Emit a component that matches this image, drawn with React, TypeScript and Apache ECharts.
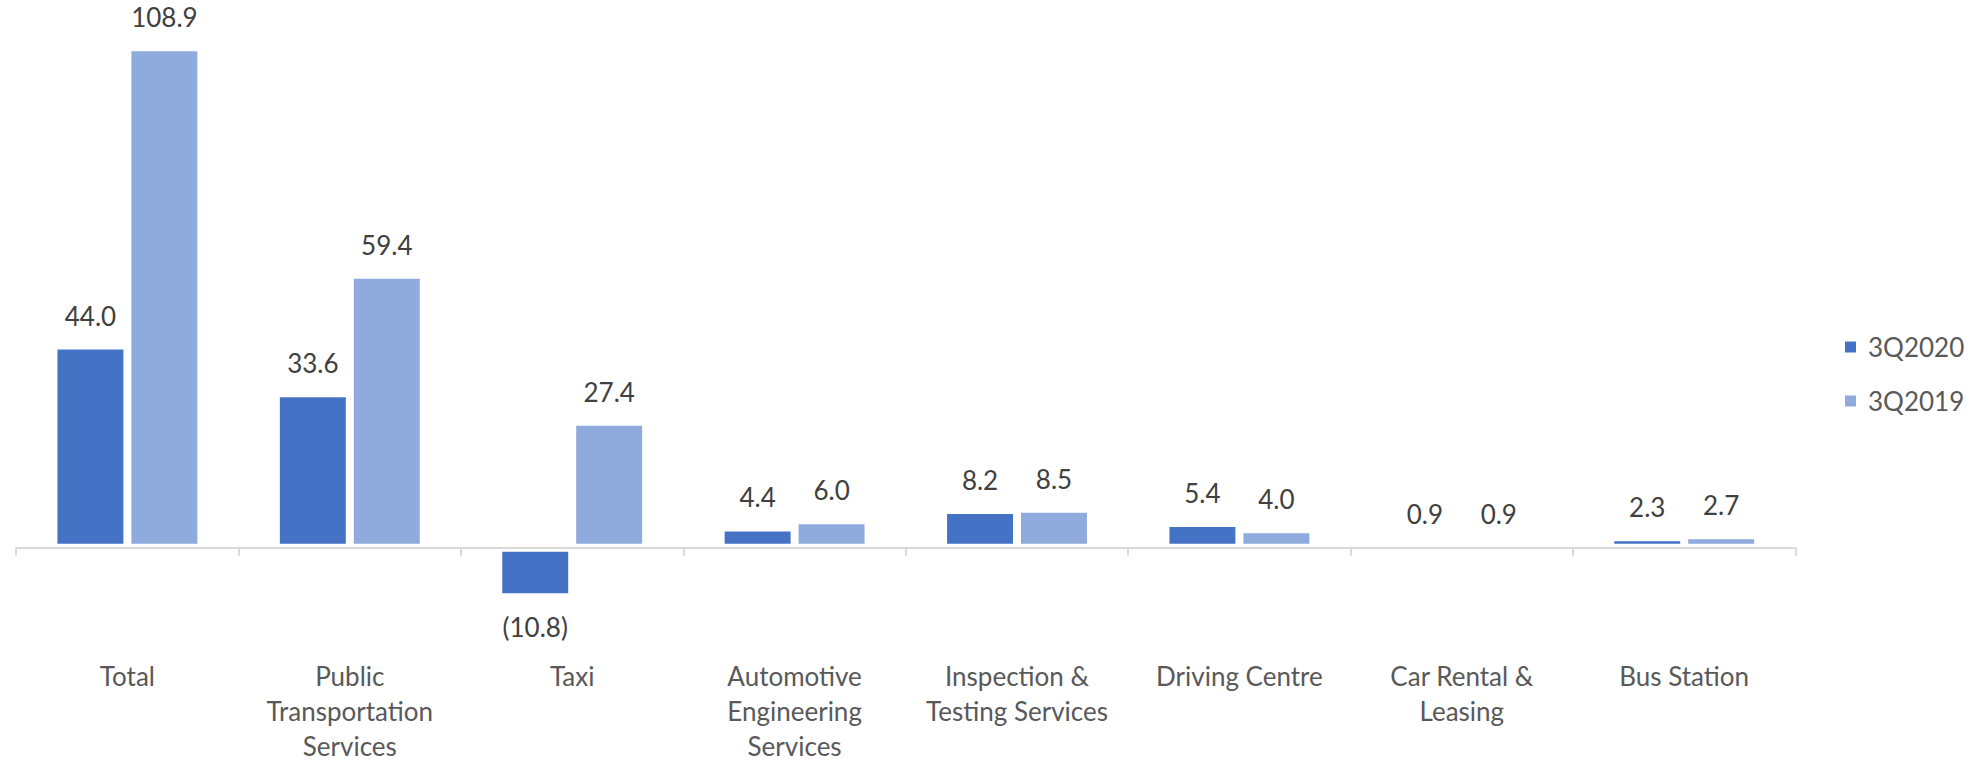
import React, { useEffect, useRef } from "react";
import * as echarts from "echarts";

const categories = [
  "Total",
  "Public\nTransportation\nServices",
  "Taxi",
  "Automotive\nEngineering\nServices",
  "Inspection &\nTesting Services",
  "Driving Centre",
  "Car Rental &\nLeasing",
  "Bus Station",
];
const seriesNames = ["3Q2020", "3Q2019"];
const values2020 = [44.0, 33.6, -10.8, 4.4, 8.2, 5.4, 0.9, 2.3];
const values2019 = [108.9, 59.4, 27.4, 6.0, 8.5, 4.0, 0.9, 2.7];
const colors = ["#4472C4", "#8FAADC"];

const FONT = "Lato";

function fmt(v: number): string {
  return v < 0 ? `(${Math.abs(v).toFixed(1)})` : v.toFixed(1);
}

function makeSeries(name: string, values: number[], color: string) {
  return {
    name,
    type: "bar",
    barGap: "0%",
    barCategoryGap: "33.5%",
    itemStyle: { color, borderColor: "#ffffff", borderWidth: 4 },
    label: {
      show: true,
      position: "top",
      distance: 17,
      fontFamily: FONT,
      fontSize: 26,
      color: "#404040",
      formatter: (p: any) => fmt(p.value),
    },
    data: values.map((v) => ({
      value: v,
      label: { position: v < 0 ? "bottom" : "top" },
    })),
  };
}

export default function App() {
  const ref = useRef<HTMLDivElement>(null);
  useEffect(() => {
    if (!ref.current) return;
    const chart = echarts.init(ref.current, undefined, { renderer: "svg" });
    chart.setOption({
      animation: false,
      backgroundColor: "#ffffff",
      textStyle: { fontFamily: FONT },
      grid: {
        left: 16.2,
        width: 1779.2,
        top: 42.25,
        height: 597.35,
        containLabel: false,
        outerBoundsMode: "none",
      },
      legend: {
        orient: "vertical",
        left: 1843,
        top: 334,
        padding: 0,
        itemWidth: 13,
        itemHeight: 13,
        itemGap: 28,
        icon: "rect",
        data: seriesNames,
        textStyle: {
          fontFamily: FONT,
          fontSize: 26,
          color: "#595959",
          padding: [0, 0, 0, 6],
        },
      },
      xAxis: {
        type: "category",
        data: categories,
        z: 10,
        axisLine: { show: true, onZero: true, lineStyle: { color: "#d9d9d9", width: 2 } },
        axisTick: { show: true, length: 8, lineStyle: { color: "#d9d9d9", width: 2 } },
        axisLabel: {
          interval: 0,
          margin: 19,
          fontFamily: FONT,
          fontSize: 26,
          lineHeight: 35,
          color: "#595959",
        },
        splitLine: { show: false },
      },
      yAxis: {
        type: "value",
        min: -20,
        max: 110,
        show: false,
        splitLine: { show: false },
      },
      series: [
        makeSeries(seriesNames[0], values2020, colors[0]),
        makeSeries(seriesNames[1], values2019, colors[1]),
      ],
    });
    return () => chart.dispose();
  }, []);
  return (
    <div
      ref={ref}
      style={{ position: "fixed", left: 0, top: 0, width: 1976, height: 763, background: "#fff" }}
    />
  );
}
